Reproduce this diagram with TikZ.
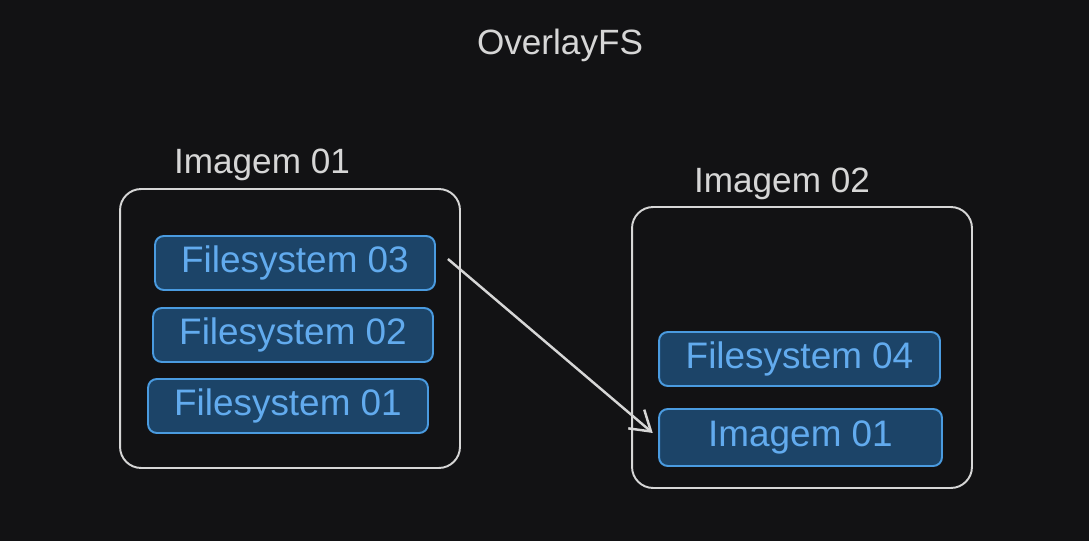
\documentclass[tikz,border=0pt]{standalone}
\usepackage{fontspec}
\setmainfont{Liberation Sans}
\usepackage{xcolor}
\definecolor{canvas}{HTML}{121214}
\definecolor{chalk}{HTML}{D6D6D6}
\definecolor{layerfill}{HTML}{1C4468}
\definecolor{layerline}{HTML}{4A9BE0}
\definecolor{layertext}{HTML}{62ABEE}
\usepackage{tikz}
\usetikzlibrary{arrows.meta, positioning}

\begin{document}
\begin{tikzpicture}[
  x=0.02cm, y=-0.02cm,
  layer/.style={draw=layerline, fill=layerfill, line width=1.1pt,
    rounded corners=5pt, minimum width=#1, minimum height=1.08cm,
    inner sep=0pt, font=\fontsize{21}{25}\selectfont, text=layertext},
  layer/.default=5.6cm,
  frame/.style={draw=chalk, line width=1.1pt, rounded corners=12pt,
    minimum width=6.8cm, minimum height=#1, inner sep=0pt},
  heading/.style={font=\fontsize{20}{24}\selectfont, text=chalk},
  >={Straight Barb[length=11pt, width=14pt]}
]
  \fill[canvas] (0,0) rectangle (1089,541);

  \node[heading] (title) at (560,45) {OverlayFS};

  % first image: three stacked layers
  \node[frame=5.58cm] (img1) at (290,328.5) {};
  \node[heading] (img1label) at (262,165) {Imagem 01};
  \node[layer] (fs03) at (295,263) {Filesystem 03};
  \node[layer] (fs02) at (293,335) {Filesystem 02};
  \node[layer] (fs01) at (288,406) {Filesystem 01};

  % second image built on top of the first
  \node[frame=5.62cm] (img2) at (802,347.5) {};
  \node[heading] (img2label) at (782,184) {Imagem 02};
  \node[layer=5.62cm] (fs04) at (799.5,359) {Filesystem 04};
  \node[layer=5.66cm, minimum height=1.14cm] (base) at (800.5,437.5) {Imagem 01};

  \draw[->, chalk, line width=1.4pt, shorten >=0.14cm]
    ([shift={(0.24cm,0.08cm)}]fs03.east) -- (base.west);
\end{tikzpicture}
\end{document}
